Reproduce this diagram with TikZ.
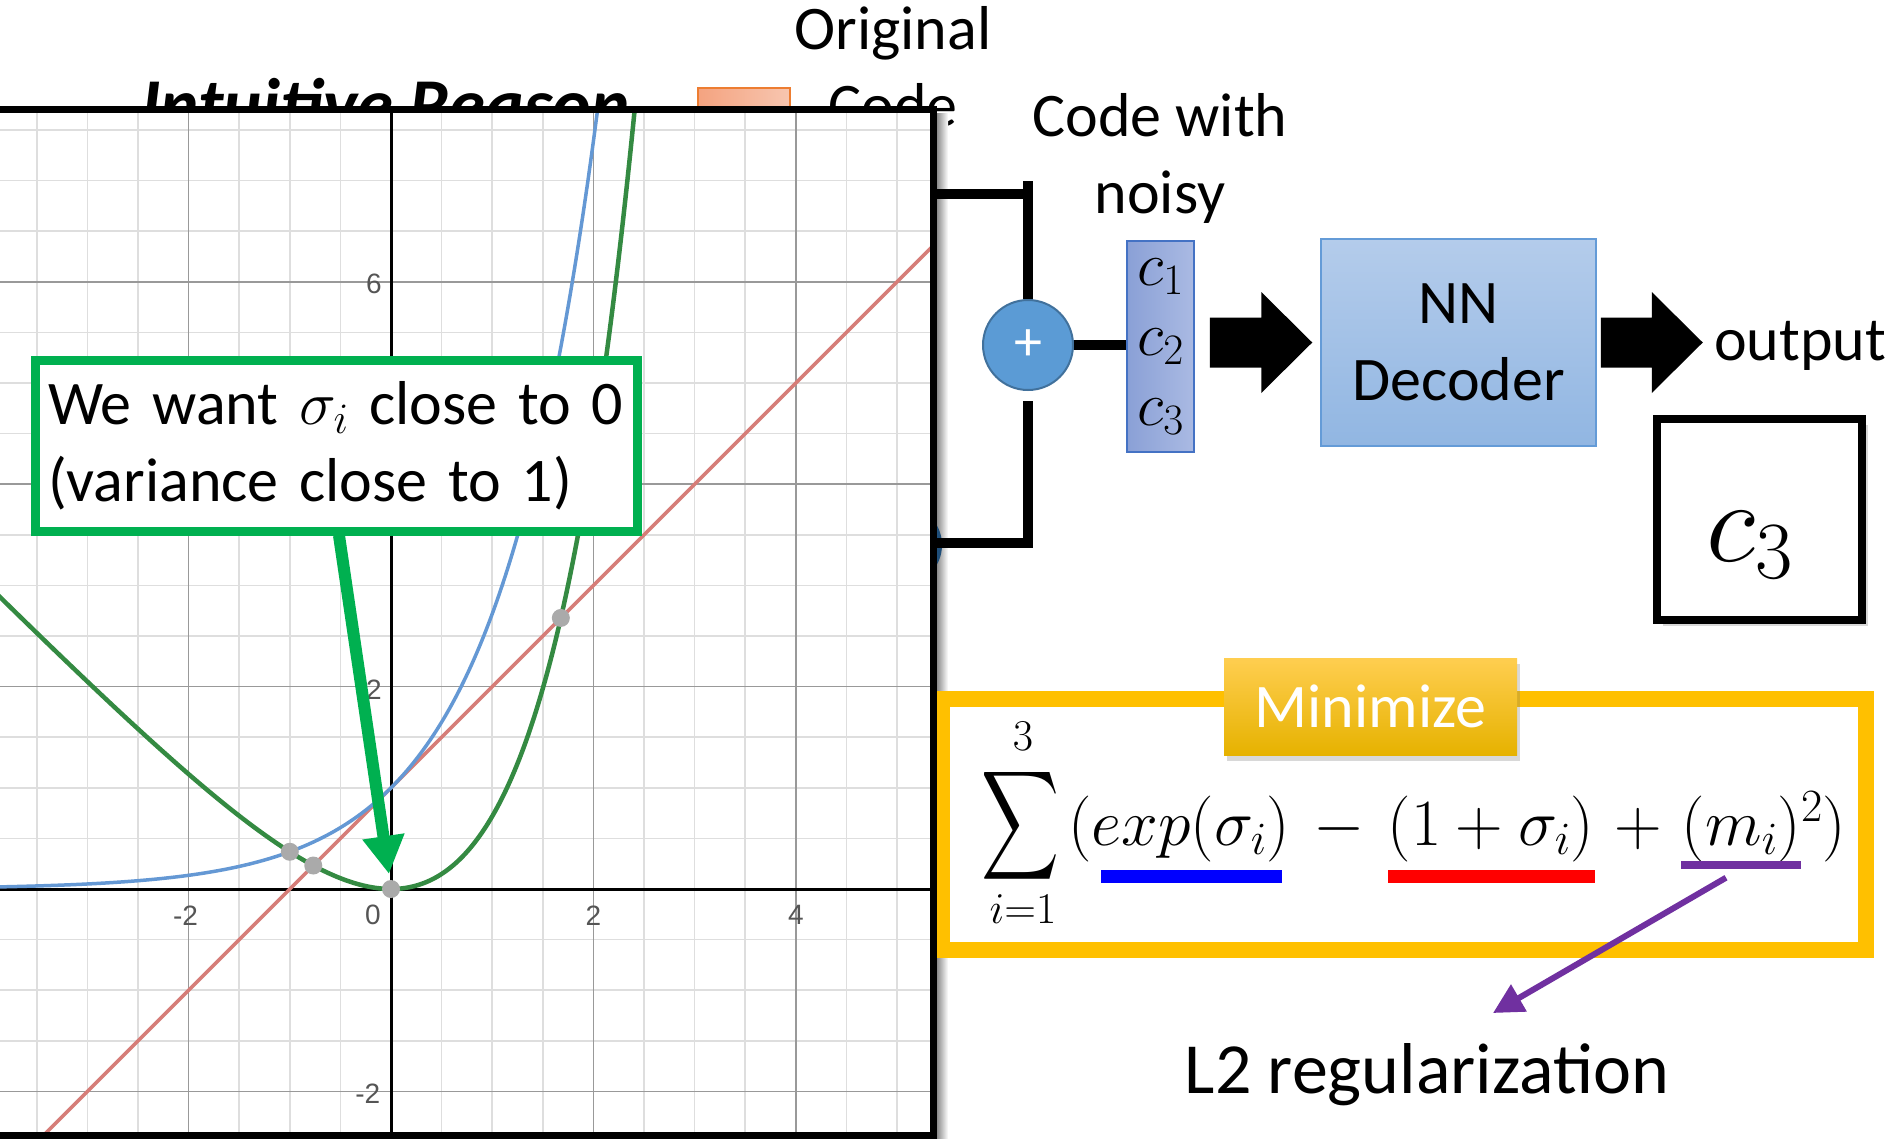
\RequirePackage{fix-cm}
\documentclass[tikz,border=0pt]{standalone}
\usepackage{fontspec}
\setmainfont{Carlito}
\newfontfamily\tickfont{Liberation Sans}
\usepackage{graphicx}
\usetikzlibrary{arrows.meta,calc,shadows}

\definecolor{plotblue}{RGB}{100,152,212}
\definecolor{plotred}{RGB}{214,125,120}
\definecolor{plotgreen}{RGB}{52,138,66}
\definecolor{callgreen}{RGB}{0,176,80}
\definecolor{gold}{RGB}{255,192,0}
\definecolor{minTop}{RGB}{255,206,80}
\definecolor{minBot}{RGB}{230,178,0}
\definecolor{circfill}{RGB}{91,155,213}
\definecolor{circdraw}{RGB}{65,113,156}
\definecolor{codeL}{RGB}{138,160,214}
\definecolor{codeR}{RGB}{170,186,227}
\definecolor{codeborder}{RGB}{68,114,196}
\definecolor{decTop}{RGB}{180,204,235}
\definecolor{decBot}{RGB}{145,182,226}
\definecolor{decBorder}{RGB}{100,155,215}
\definecolor{barblue}{RGB}{0,0,255}
\definecolor{barred}{RGB}{255,0,0}
\definecolor{l2purple}{RGB}{112,48,160}
\definecolor{legL}{RGB}{244,163,128}
\definecolor{legR}{RGB}{247,198,176}
\definecolor{legBorder}{RGB}{237,125,49}
\definecolor{darkblob}{RGB}{31,78,121}
\definecolor{dotgray}{RGB}{170,170,170}
\definecolor{tickgray}{RGB}{85,85,85}

\tikzset{
  every node/.style={inner sep=0pt},
  fsA/.style={font=\fontsize{62}{77}\selectfont},
  bracket/.style={line width=10pt, black},
  gridminor/.style={line width=1.6pt, black!13},
  gridmajor/.style={line width=1.6pt, black!40},
  axisline/.style={line width=3pt, black},
  ticklab/.style={font=\fontsize{28}{32}\selectfont\tickfont, text=tickgray},
  idot/.style={fill=dotgray},
}

\newcommand\blockarrow[2]{%
  \fill[black] let \p1=(#1), \p2=(#2) in
    (\x1,\y1+25pt) -- (\x2-51pt,\y1+25pt) -- (\x2-51pt,\y1+50.5pt) -- (\x2,\y1)
    -- (\x2-51pt,\y1-50.5pt) -- (\x2-51pt,\y1-25pt) -- (\x1,\y1-25pt) -- cycle;}

\begin{document}
\begin{tikzpicture}[x=1pt,y=-1pt]
\useasboundingbox (0,0) rectangle (1903,1138);
\fill[white] (0,0) rectangle (1903,1138);

% ---- items partly hidden behind the graph panel ----
\node[font=\fontsize{73}{88}\selectfont\bfseries\itshape, anchor=base west] (intuit) at (141,129) {Intuitive Reason};
\node[draw=legBorder, line width=2pt, left color=legL, right color=legR, minimum width=92pt, minimum height=60pt] (legend) at (744,118) {};
\node[fsA, align=center] (orig) at (893,67) {Original\\Code};

\shade[left color=black!45, right color=white] (937,113) rectangle (948,1138);
\fill[darkblob] (902,545) circle (40pt);

% minimize frame
\node[draw=gold, line width=16pt, minimum width=924pt, minimum height=251pt] (minbox) at (1404,824.5) {};

% ---- graph panel ----
\begin{scope}
  \fill[white] (-10,109) rectangle (933.5,1135);
  \clip (-10,109) rectangle (933.5,1135);
  \begin{scope}[shift={(391,889)}, x=101.2pt, y=101.2pt]
    \foreach \i in {-8,...,11} \draw[gridminor] (\i*0.5,-2.7) -- (\i*0.5,7.9);
    \foreach \j in {-5,...,16} \draw[gridminor] (-4,\j*0.5) -- (5.5,\j*0.5);
    \foreach \i in {-2,2,4} \draw[gridmajor] (\i,-2.7) -- (\i,7.9);
    \foreach \j in {-2,2,4,6} \draw[gridmajor] (-4,\j) -- (5.5,\j);
    \draw[axisline] (-4,0) -- (5.5,0);
    \draw[axisline] (0,-2.7) -- (0,7.9);
    \node[ticklab] (tx1) at (-2.03,-0.26) {-2};
    \node[ticklab] (tx0) at (-0.18,-0.26) {0};
    \node[ticklab] (tx2) at (2,-0.26) {2};
    \node[ticklab] (tx4) at (4,-0.26) {4};
    \node[ticklab] (ty6) at (-0.17,5.98) {6};
    \node[ticklab] (ty2) at (-0.17,1.97) {2};
    \node[ticklab] (tym2) at (-0.23,-2.02) {-2};
    \draw[plotred, line width=3.5pt, domain=-3.8:5.5] plot (\x,{\x+1});
    \draw[plotblue, line width=3.5pt, domain=-4:2.12, samples=140, smooth] plot (\x,{exp(\x)});
    \draw[plotgreen, line width=4.5pt, domain=-4:2.45, samples=160, smooth] plot (\x,{exp(\x)-1-\x});
    \fill[idot] (-1,0.3679) circle (9pt);
    \fill[idot] (-0.768,0.232) circle (9pt);
    \fill[idot] (1.6783,2.6783) circle (9pt);
    \fill[idot] (0,0) circle (9pt);
  \end{scope}
\end{scope}
\draw[line width=7pt] (-10,109) rectangle (933.5,1135);

% ---- callout ----
\node[draw=callgreen, line width=9pt, fill=white, minimum width=602pt, minimum height=171pt,
      text width=576pt, inner xsep=13pt, align=left, fsA] (callout) at (336,445.5)
      {We want $\sigma_i$ close to 0\\(variance close to 1)};
\coordinate (gtip) at (389,874);
\draw[callgreen, line width=12pt, -{Triangle[length=38pt,width=40pt]}] ($(callout.south)+(3,0)$) -- (gtip);

% ---- encoder side ----
\node[circle, fill=circfill, draw=circdraw, line width=2pt, minimum size=90pt, text=white,
      font=\fontsize{56}{60}\selectfont] (plus) at (1028,345) {+};
\node[draw=codeborder, line width=1.5pt, left color=codeL, right color=codeR,
      minimum width=67pt, minimum height=211pt, align=center,
      font=\fontsize{62}{70}\selectfont] (code) at (1160.5,346.5) {$c_1$\\$c_2$\\$c_3$};
\coordinate (ftop) at (933,194);
\coordinate (fbot) at (933,543);
\draw[bracket] (ftop) -- ($(ftop -| plus)+(5,0)$);
\draw[bracket] (plus.north) -- ++(0,-118);
\draw[bracket] (fbot) -- ($(fbot -| plus)+(5,0)$);
\draw[bracket] ($(plus.south)+(0,10)$) -- ($(fbot -| plus)+(0,5)$);
\draw[bracket] (plus.east) -- (plus.east -| code.west);

\node[fsA, align=center] (cwn) at (1160,158) {Code with\\noisy};

\node[draw=decBorder, line width=1.5pt, top color=decTop, bottom color=decBot,
      minimum width=275pt, minimum height=207pt, align=center, fsA] (dec) at (1458.5,342.5) {NN\\Decoder};

\coordinate (a1s) at ($(code.east |- dec.west)+(15,0)$);
\coordinate (a1e) at ($(dec.west)+(-8,0)$);
\coordinate (a2s) at ($(dec.east)+(4,0)$);
\coordinate (a2e) at ($(a2s)+(102,0)$);
\blockarrow{a1s}{a1e}
\blockarrow{a2s}{a2e}

\node[fsA, anchor=base west] (outtxt) at (1714,360) {output};

\node[draw, line width=8pt, fill=white, minimum width=205pt, minimum height=201pt,
      drop shadow={shadow xshift=6pt, shadow yshift=-6pt, opacity=0.3}] (outbox) at (1759.5,519.5) {};
\node[font=\fontsize{116}{130}\selectfont] (outc) at (1750,545) {$c_3$};

% ---- minimize formula ----
\node[fsA, text=white, top color=minTop, bottom color=minBot, minimum width=293pt, minimum height=97pt,
      drop shadow={shadow xshift=3pt, shadow yshift=-6pt, opacity=0.3}] (minlab) at (1370.5,706.5) {Minimize};

\node (sum) at (1021,826) {\resizebox*{78pt}{122pt}{$\displaystyle\sum$}};
\node[font=\fontsize{44}{50}\selectfont] (sumtop) at (1023,736) {$3$};
\node[font=\fontsize{44}{50}\selectfont] (sumbot) at (1023,909) {$i{=}1$};
\node[anchor=base west, font=\fontsize{66}{74}\selectfont] (expr) at (1068,845)
      {$(exp(\sigma_i)\mkern2.3mu-\mkern2.3mu(1+\sigma_i)\mkern1.5mu+\mkern1.5mu(m_i)^2)$};

\node[fill=barblue, minimum width=181pt, minimum height=13pt] (bbar) at (1191.5,876.5) {};
\node[fill=barred, minimum width=207pt, minimum height=13pt] (rbar) at (1491.5,876.5) {};
\node[fill=l2purple, minimum width=120pt, minimum height=8pt] (pbar) at (1741,864.5) {};

\node[font=\fontsize{72}{86}\selectfont, anchor=base] (l2) at (1427,1093) {L2 regularization};
\coordinate (pend) at (1493,1013);
\draw[l2purple, line width=6pt, -{Triangle[length=30pt,width=30pt]}] ($(pbar.south)+(-15,9)$) -- (pend);
\end{tikzpicture}
\end{document}
